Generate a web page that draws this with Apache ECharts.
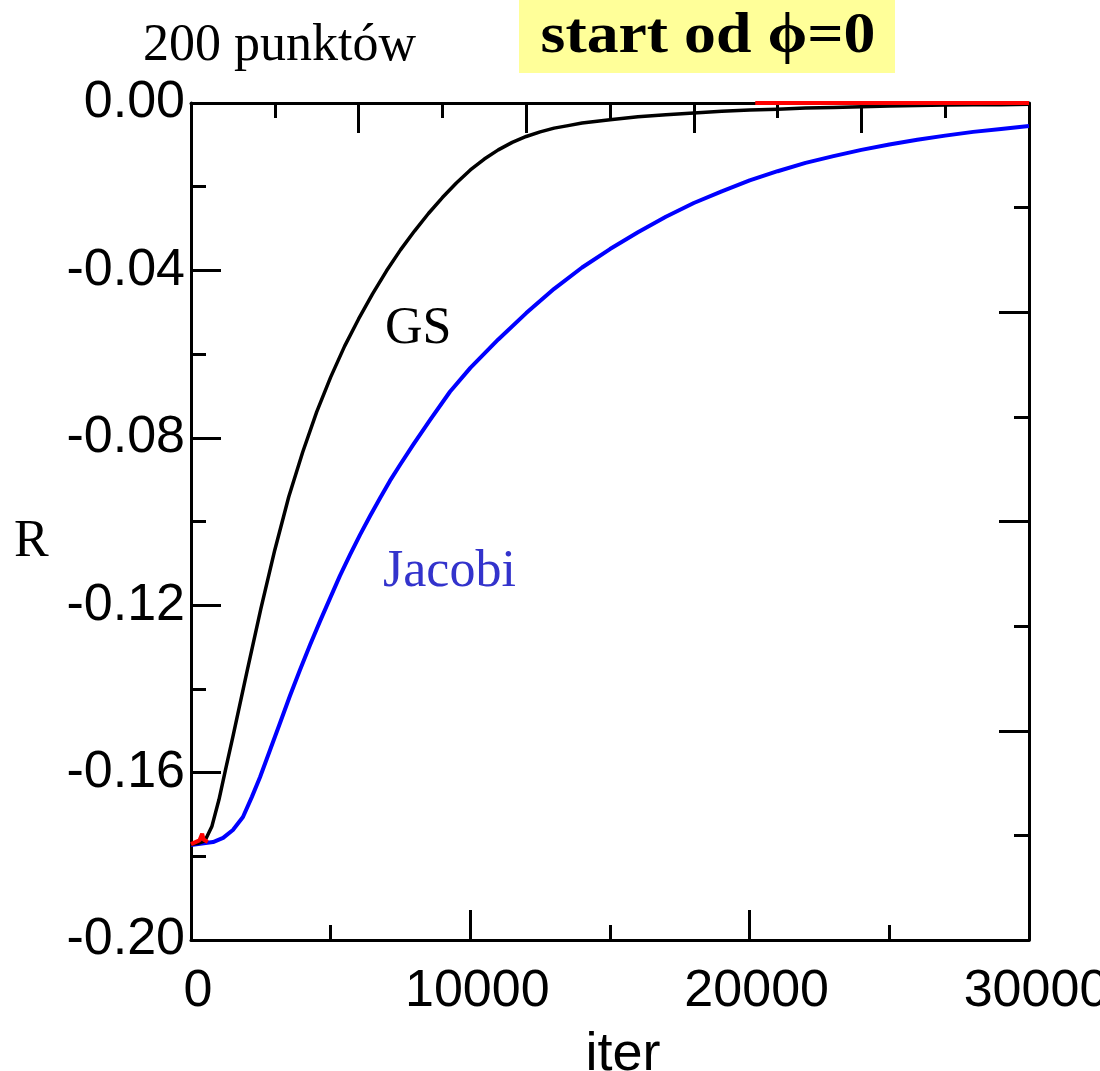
<!DOCTYPE html>
<html>
<head>
<meta charset="utf-8">
<script src="https://cdn.jsdelivr.net/npm/echarts@6/dist/echarts.min.js"></script>
<style>
  html, body { margin: 0; padding: 0; background: #ffffff; }
  #chart { width: 1100px; height: 1071px; }
</style>
</head>
<body>
<div id="chart"></div>
<script>
// Residual R versus iteration number, 200-point grid, starting from phi = 0

// Gauss-Seidel
const gsIter = [0, 250, 500, 750, 1000, 1250, 1500, 2000, 2500, 3000, 3500, 4000, 4500, 5000, 5500, 6000, 6500, 7000, 7500, 8000, 8500, 9000, 9500, 10000, 10500, 11000, 11500, 12000, 12500, 13000, 13500, 14000, 15000, 16000, 17000, 18000, 19000, 20000, 21000, 22000, 23000, 24000, 25000, 26000, 27000, 28000, 29000, 30000];
const gsR    = [-0.1771, -0.1769, -0.1763, -0.1728, -0.1665, -0.1589, -0.1514, -0.1360, -0.1209, -0.1068, -0.0941, -0.0834, -0.0738, -0.0655, -0.0581, -0.0516, -0.0456, -0.0401, -0.0351, -0.0306, -0.0264, -0.0226, -0.0191, -0.0160, -0.0134, -0.0112, -0.0094, -0.0080, -0.0069, -0.0060, -0.0054, -0.0048, -0.0040, -0.0033, -0.0028, -0.0024, -0.0020, -0.0017, -0.0015, -0.0012, -0.0011, -0.0009, -0.0007, -0.0006, -0.0005, -0.0004, -0.0004, -0.0003];

// Jacobi
const jacIter = [0, 790, 1150, 1500, 1860, 2180, 2470, 2830, 3190, 3540, 3900, 4260, 4620, 4980, 5330, 5690, 6050, 6410, 6770, 7120, 7480, 7950, 8560, 9270, 10000, 11000, 12000, 13000, 14000, 15000, 16000, 17000, 18000, 19000, 20000, 21000, 22000, 23000, 24000, 25000, 26000, 27000, 28000, 29000, 30000];
const jacR    = [-0.1773, -0.1766, -0.1756, -0.1737, -0.1706, -0.1658, -0.1611, -0.1546, -0.1481, -0.1417, -0.1355, -0.1295, -0.1238, -0.1183, -0.1130, -0.1080, -0.1032, -0.0987, -0.0944, -0.0903, -0.0865, -0.0817, -0.0757, -0.0690, -0.0633, -0.0565, -0.0502, -0.0444, -0.0393, -0.0349, -0.0309, -0.0272, -0.0239, -0.0211, -0.0185, -0.0163, -0.0143, -0.0127, -0.0112, -0.0099, -0.0088, -0.0078, -0.0069, -0.0062, -0.0055];

// third run (red): short start and the converged tail at R = 0
const redStartIter = [0, 300, 400, 450, 600];
const redStartR    = [-0.1771, -0.1762, -0.1746, -0.1760, -0.1766];
const redTailIter  = [20200, 30000];
const redTailR     = [0.0, 0.0];

// axis ticks
const xTicks = [0, 10000, 20000, 30000];
const yTicks = [-0.20, -0.16, -0.12, -0.08, -0.04, 0.00];

const zip = (xs, ys) => xs.map((x, i) => [x, ys[i]]);

const chart = echarts.init(document.getElementById('chart'), null, { renderer: 'canvas' });

const sansFont = '"Liberation Sans", Arial, sans-serif';
const serifFont = '"Liberation Serif", "Times New Roman", serif';

// frame axis: line, inward major ticks and shorter inward minor ticks
function frame(extra) {
  return Object.assign({
    type: 'value',
    axisLine: { show: true, onZero: false, lineStyle: { color: '#000', width: 3 } },
    axisTick: { show: true, inside: true, length: 30, lineStyle: { color: '#000', width: 3 } },
    minorTick: { show: true, splitNumber: 2, length: 15, lineStyle: { color: '#000', width: 3 } },
    splitLine: { show: false },
    minorSplitLine: { show: false }
  }, extra);
}

chart.setOption({
  backgroundColor: '#ffffff',
  animation: false,
  grid: { left: 191, right: 71, top: 103, bottom: 131, containLabel: false, outerBoundsMode: 'none' },
  xAxis: [
    frame({
      position: 'bottom',
      min: xTicks[0], max: xTicks[xTicks.length - 1], interval: xTicks[1] - xTicks[0],
      name: 'iter', nameLocation: 'middle', nameGap: 88,
      nameTextStyle: { fontFamily: sansFont, fontSize: 54, color: '#000', padding: [0, 0, 0, 26] },
      axisLabel: {
        show: true, margin: 26, fontFamily: sansFont, fontSize: 52, color: '#000',
        padding: [0, 0, 0, 14], formatter: v => String(v)
      }
    }),
    frame({
      position: 'top',
      min: 0, max: 30000, interval: 6000,
      axisLabel: { show: false }
    })
  ],
  yAxis: [
    frame({
      position: 'left',
      min: yTicks[0], max: yTicks[yTicks.length - 1], interval: 0.04,
      axisLabel: {
        show: true, margin: 6, fontFamily: sansFont, fontSize: 52, color: '#000',
        padding: [4, 0, 0, 0], formatter: v => v.toFixed(2)
      }
    }),
    frame({
      position: 'right',
      min: -0.2, max: 0, interval: 0.05,
      axisLabel: { show: false }
    })
  ],
  series: [
    {
      name: 'Jacobi', type: 'line', xAxisIndex: 0, yAxisIndex: 0,
      data: zip(jacIter, jacR),
      showSymbol: false, smooth: false,
      lineStyle: { color: '#0000ff', width: 4, join: 'round' }, z: 3
    },
    {
      name: 'GS', type: 'line', xAxisIndex: 0, yAxisIndex: 0,
      data: zip(gsIter, gsR),
      showSymbol: false, smooth: false,
      lineStyle: { color: '#000000', width: 3.5, join: 'round' }, z: 4
    },
    {
      name: 'red start', type: 'line', xAxisIndex: 0, yAxisIndex: 0,
      data: zip(redStartIter, redStartR),
      showSymbol: false, smooth: false,
      lineStyle: { color: '#ff0000', width: 4 }, z: 5
    },
    {
      name: 'red tail', type: 'line', xAxisIndex: 0, yAxisIndex: 0,
      data: zip(redTailIter, redTailR),
      showSymbol: false, clip: false,
      lineStyle: { color: '#ff0000', width: 4 }, z: 5
    }
  ],
  graphic: [
    {
      type: 'rect', shape: { x: 519, y: 0, width: 376, height: 73 },
      style: { fill: '#ffff99' }, z: 1
    },
    {
      type: 'text', x: 708, y: 37, scaleX: 1.1, z: 2,
      style: { text: 'start od \u03d5=0', font: 'bold 58px ' + serifFont, fill: '#000', align: 'center', verticalAlign: 'middle' }
    },
    {
      type: 'text', x: 143, y: 46, z: 2,
      style: { text: '200 punktów', font: '52px ' + serifFont, fill: '#000', align: 'left', verticalAlign: 'middle' }
    },
    {
      type: 'text', x: 14, y: 542, z: 2,
      style: { text: 'R', font: '52px ' + serifFont, fill: '#000', align: 'left', verticalAlign: 'middle' }
    },
    {
      type: 'text', x: 385, y: 329, z: 2,
      style: { text: 'GS', font: '52px ' + serifFont, fill: '#000', align: 'left', verticalAlign: 'middle' }
    },
    {
      type: 'text', x: 383, y: 572, z: 2,
      style: { text: 'Jacobi', font: '52px ' + serifFont, fill: '#3333cc', align: 'left', verticalAlign: 'middle' }
    }
  ]
});
</script>
</body>
</html>
